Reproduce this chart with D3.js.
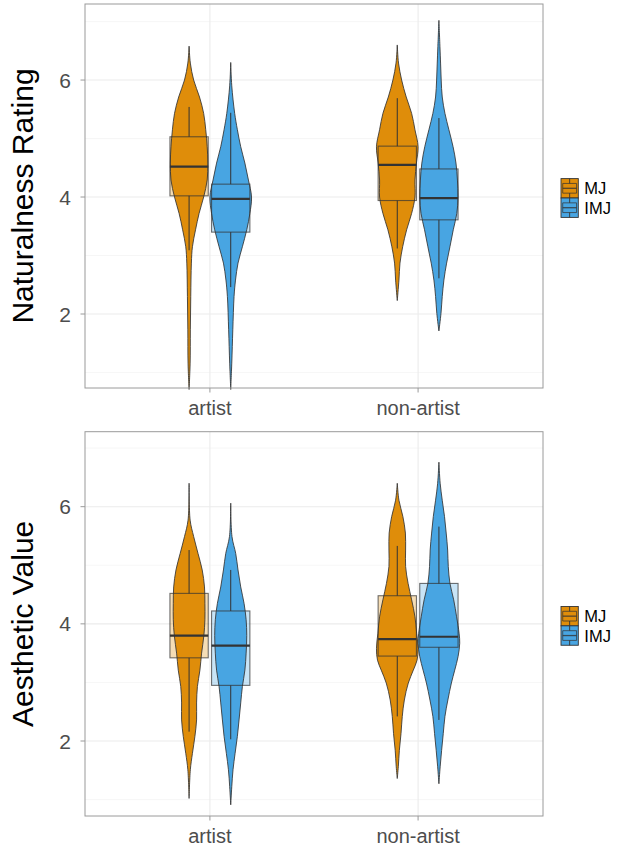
<!DOCTYPE html>
<html><head><meta charset="utf-8">
<script src="https://cdn.jsdelivr.net/npm/d3@7"></script>
<style>
body{margin:0;background:#fff}
svg text{font-family:"Liberation Sans",Arial,Helvetica,sans-serif}
</style>
</head><body>
<svg id="chart" width="617" height="850"></svg>
<script>
// ---------- data ----------
const groups = ["artist", "non-artist"];
const types = ["MJ", "IMJ"];
const typeColors = ["#DF8D0A", "#48A5E2"];
const yTitles = ["Naturalness Rating", "Aesthetic Value"];
const majorTicks = [2, 4, 6];
const minorTicks = [1, 3, 5, 7];
const natDomain = [0.735, 7.30];
const aesDomain = [0.72, 7.28];

// box stats [lowWhisker, q1, median, q3, highWhisker]
// order: artist-MJ, artist-IMJ, non-artist-MJ, non-artist-IMJ
const natBoxes = [
  [3.09, 4.02, 4.52, 5.03, 5.54],
  [2.46, 3.40, 3.97, 4.22, 5.44],
  [3.12, 3.94, 4.55, 4.87, 5.69],
  [2.61, 3.61, 3.98, 4.48, 5.35]
];
const aesBoxes = [
  [2.16, 3.42, 3.80, 4.52, 5.26],
  [2.03, 2.95, 3.63, 4.22, 4.92],
  [2.42, 3.45, 3.74, 4.48, 5.33],
  [2.36, 3.60, 3.78, 4.69, 5.66]
];

// violin profiles [value, relative density]
const natViolins = [
  [[0.71,0],[1.16,0.05],[1.73,0.06],[2.30,0.08],[2.87,0.11],[3.15,0.16],[3.44,0.31],[3.72,0.48],[4.0,0.7],[4.29,0.87],[4.58,0.9],[4.86,0.87],[5.15,0.8],[5.43,0.7],[5.71,0.5],[6.0,0.22],[6.29,0.06],[6.58,0]],
  [[0.71,0],[1.16,0.05],[1.73,0.1],[2.30,0.16],[2.58,0.23],[2.87,0.35],[3.15,0.56],[3.44,0.77],[3.72,0.92],[4.0,1.0],[4.29,0.85],[4.58,0.68],[4.86,0.48],[5.15,0.32],[5.43,0.19],[5.90,0.05],[6.30,0]],
  [[2.23,0],[2.58,0.08],[2.87,0.13],[3.15,0.26],[3.44,0.45],[3.72,0.69],[4.0,0.85],[4.29,0.85],[4.58,0.92],[4.86,1.0],[5.15,0.85],[5.43,0.69],[5.71,0.43],[6.0,0.21],[6.29,0.06],[6.6,0]],
  [[1.71,0],[2.01,0.1],[2.30,0.16],[2.58,0.24],[2.87,0.37],[3.15,0.53],[3.44,0.69],[3.72,0.86],[4.0,0.92],[4.29,0.89],[4.58,0.82],[4.86,0.68],[5.15,0.48],[5.43,0.29],[5.71,0.16],[6.0,0.11],[6.29,0.08],[6.57,0.05],[7.02,0]]
];
const aesViolins = [
  [[1.02,0],[1.51,0.06],[1.79,0.16],[2.08,0.28],[2.36,0.36],[2.65,0.36],[2.93,0.4],[3.21,0.52],[3.5,0.6],[3.8,0.71],[4.07,0.76],[4.35,0.76],[4.63,0.74],[4.92,0.63],[5.2,0.43],[5.49,0.22],[5.77,0.05],[6.4,0]],
  [[0.91,0],[1.22,0.05],[1.51,0.11],[1.79,0.21],[2.08,0.32],[2.36,0.4],[2.65,0.48],[2.93,0.56],[3.21,0.68],[3.5,0.74],[3.8,0.77],[4.07,0.74],[4.35,0.64],[4.63,0.48],[4.92,0.35],[5.2,0.24],[5.49,0.06],[6.06,0]],
  [[1.36,0],[1.56,0.05],[1.84,0.1],[2.13,0.18],[2.42,0.24],[2.70,0.34],[2.99,0.53],[3.21,0.77],[3.38,0.95],[3.58,1.0],[3.84,0.93],[4.12,0.85],[4.41,0.69],[4.69,0.52],[4.98,0.4],[5.26,0.4],[5.55,0.39],[5.83,0.27],[6.11,0.08],[6.40,0]],
  [[1.27,0],[1.56,0.06],[1.84,0.13],[2.13,0.21],[2.42,0.29],[2.70,0.43],[2.99,0.6],[3.21,0.76],[3.44,0.92],[3.67,1.0],[3.84,0.97],[4.12,0.85],[4.41,0.71],[4.69,0.53],[4.98,0.45],[5.26,0.42],[5.55,0.35],[5.83,0.27],[6.11,0.16],[6.40,0.06],[6.76,0]]
];

// ---------- layout ----------
const svg = d3.select("#chart");
const plotLeft = 85, plotRight = 543;
const panels = [
  {top: 4, bottom: 388, domain: natDomain, boxes: natBoxes, violins: natViolins, title: yTitles[0]},
  {top: 431.7, bottom: 816, domain: aesDomain, boxes: aesBoxes, violins: aesViolins, title: yTitles[1]}
];
const axisGrey = "#4D4D4D";
const lineDark = "#333333";

const x = d3.scalePoint().domain(groups).range([plotLeft, plotRight]).padding(0.6);
const dodge = d3.scaleBand().domain(types).range([-0.2 * x.step(), 0.2 * x.step()]);
const halfW = d3.scaleLinear().domain([0, 1]).range([0, dodge.bandwidth() / 2]);
const boxHalf = dodge.bandwidth() * 0.46;
const color = d3.scaleOrdinal().domain(types).range(typeColors);

panels.forEach((p) => {
  const y = d3.scaleLinear().domain(p.domain).range([p.bottom, p.top]);
  const g = svg.append("g");

  // gridlines
  g.selectAll(".minor").data(minorTicks).join("line")
    .attr("x1", plotLeft).attr("x2", plotRight)
    .attr("y1", d => y(d)).attr("y2", d => y(d))
    .attr("stroke", "#F2F2F2").attr("stroke-width", 0.7);
  g.selectAll(".major").data(majorTicks).join("line")
    .attr("x1", plotLeft).attr("x2", plotRight)
    .attr("y1", d => y(d)).attr("y2", d => y(d))
    .attr("stroke", "#EBEBEB").attr("stroke-width", 1.1);
  g.selectAll(".vgrid").data(groups).join("line")
    .attr("x1", d => x(d)).attr("x2", d => x(d))
    .attr("y1", p.top).attr("y2", p.bottom)
    .attr("stroke", "#EBEBEB").attr("stroke-width", 1.1);

  // marks
  groups.forEach((grp, gi) => {
    types.forEach((tp, ti) => {
      const idx = gi * 2 + ti;
      const cx = x(grp) + dodge(tp) + dodge.bandwidth() / 2;
      const b = p.boxes[idx];
      const col = color(tp);
      // box fill (translucent)
      g.append("rect")
        .attr("x", cx - boxHalf).attr("width", boxHalf * 2)
        .attr("y", y(b[3])).attr("height", y(b[1]) - y(b[3]))
        .attr("fill", col).attr("fill-opacity", 0.3);
      // violin
      const area = d3.area()
        .curve(d3.curveCatmullRom.alpha(0.5))
        .y(d => y(d[0]))
        .x0(d => cx - halfW(d[1]))
        .x1(d => cx + halfW(d[1]));
      g.append("path").datum(p.violins[idx])
        .attr("d", area)
        .attr("fill", col)
        .attr("stroke", lineDark).attr("stroke-opacity", 0.85).attr("stroke-width", 1);
      // box outline
      g.append("rect")
        .attr("x", cx - boxHalf).attr("width", boxHalf * 2)
        .attr("y", y(b[3])).attr("height", y(b[1]) - y(b[3]))
        .attr("fill", "none").attr("stroke", lineDark).attr("stroke-opacity", 0.7).attr("stroke-width", 1.1);
      // whiskers
      g.append("line").attr("x1", cx).attr("x2", cx)
        .attr("y1", y(b[4])).attr("y2", y(b[3]))
        .attr("stroke", lineDark).attr("stroke-width", 1);
      g.append("line").attr("x1", cx).attr("x2", cx)
        .attr("y1", y(b[1])).attr("y2", y(b[0]))
        .attr("stroke", lineDark).attr("stroke-width", 1);
      // median
      g.append("line").attr("x1", cx - boxHalf).attr("x2", cx + boxHalf)
        .attr("y1", y(b[2])).attr("y2", y(b[2]))
        .attr("stroke", lineDark).attr("stroke-width", 2.2);
    });
  });

  // panel border
  g.append("rect").attr("x", plotLeft).attr("y", p.top)
    .attr("width", plotRight - plotLeft).attr("height", p.bottom - p.top)
    .attr("fill", "none").attr("stroke", "#9A9A9A").attr("stroke-width", 1);

  // y axis ticks & labels
  g.selectAll(".ytick").data(majorTicks).join("line")
    .attr("x1", plotLeft - 4.5).attr("x2", plotLeft)
    .attr("y1", d => y(d)).attr("y2", d => y(d))
    .attr("stroke", "#9A9A9A").attr("stroke-width", 1);
  g.selectAll(".ylab").data(majorTicks).join("text")
    .attr("x", plotLeft - 14).attr("y", d => y(d))
    .attr("text-anchor", "end").attr("dominant-baseline", "central")
    .attr("font-size", 21).attr("fill", axisGrey)
    .text(d => d);

  // x axis ticks & labels
  g.selectAll(".xtick").data(groups).join("line")
    .attr("x1", d => x(d)).attr("x2", d => x(d))
    .attr("y1", p.bottom).attr("y2", p.bottom + 4.5)
    .attr("stroke", "#9A9A9A").attr("stroke-width", 1);
  g.selectAll(".xlab").data(groups).join("text")
    .attr("x", d => x(d)).attr("y", p.bottom + 27)
    .attr("text-anchor", "middle")
    .attr("font-size", 20).attr("fill", axisGrey)
    .text(d => d);

  // y title
  const mid = (p.top + p.bottom) / 2;
  g.append("text")
    .attr("transform", `translate(33,${mid}) rotate(-90)`)
    .attr("text-anchor", "middle")
    .attr("font-size", 30).attr("fill", "#000")
    .text(p.title);

  // legend
  const keyW = 17.3, keyH = 19.4, keyX = 561;
  const keyTop = mid + 2 - keyH;
  types.forEach((tp, ti) => {
    const ky = keyTop + ti * keyH;
    const lg = g.append("g");
    lg.append("rect").attr("x", keyX).attr("y", ky).attr("width", keyW).attr("height", keyH)
      .attr("fill", color(tp)).attr("stroke", lineDark).attr("stroke-width", 0.9);
    // box key
    [0.25, 0.5, 0.75].forEach(f => {
      lg.append("line").attr("x1", keyX + keyW * 0.1).attr("x2", keyX + keyW * 0.9)
        .attr("y1", ky + keyH * f).attr("y2", ky + keyH * f)
        .attr("stroke", lineDark).attr("stroke-opacity", 0.8).attr("stroke-width", f === 0.5 ? 1.3 : 0.9);
    });
    [0.1, 0.9].forEach(f => {
      lg.append("line").attr("x1", keyX + keyW * f).attr("x2", keyX + keyW * f)
        .attr("y1", ky + keyH * 0.25).attr("y2", ky + keyH * 0.75)
        .attr("stroke", lineDark).attr("stroke-opacity", 0.8).attr("stroke-width", 0.9);
    });
    [[0, 0.25], [0.75, 1]].forEach(r => {
      lg.append("line").attr("x1", keyX + keyW / 2).attr("x2", keyX + keyW / 2)
        .attr("y1", ky + keyH * r[0]).attr("y2", ky + keyH * r[1])
        .attr("stroke", lineDark).attr("stroke-width", 0.9);
    });
    lg.append("text").attr("x", keyX + keyW + 6).attr("y", ky + keyH / 2)
      .attr("dominant-baseline", "central")
      .attr("font-size", 16.5).attr("fill", "#000")
      .text(tp);
  });
});
</script>
</body></html>
